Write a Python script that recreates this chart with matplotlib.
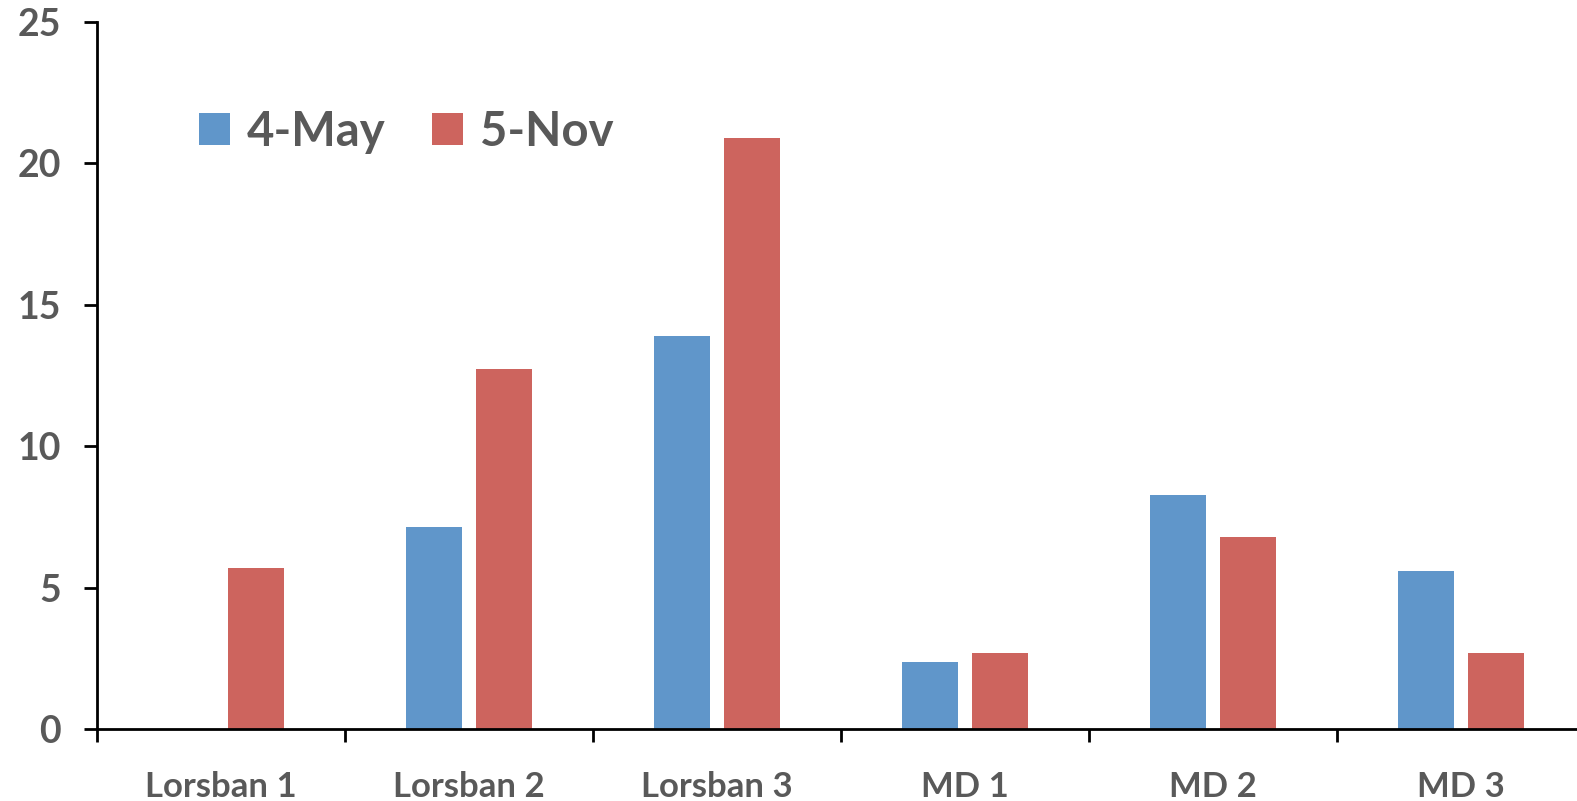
import numpy as np
import matplotlib
matplotlib.use('Agg')
import matplotlib.pyplot as plt

categories = ['Lorsban 1', 'Lorsban 2', 'Lorsban 3', 'MD 1', 'MD 2', 'MD 3']
may = [0, 7.14, 13.91, 2.38, 8.29, 5.6]
nov = [5.68, 12.73, 20.91, 2.7, 6.8, 2.7]
series_names = ['4-May', '5-Nov']
yticks = [0, 5, 10, 15, 20, 25]

grey = '#595959'
plt.rcParams['font.family'] = ['Lato', 'DejaVu Sans']
plt.rcParams['font.weight'] = 'bold'

fig = plt.figure(figsize=(15.77, 8.011), dpi=100)
ax = fig.add_axes([97 / 1577, 72 / 801, 1488 / 1577, 707 / 801])

x = np.arange(len(categories))
w = 0.226
off = 0.143
ax.bar(x - off, may, w, color='#6096CA', label=series_names[0])
ax.bar(x + off, nov, w, color='#CD645E', label=series_names[1])

ax.set_xlim(-0.5, len(categories) - 0.5)
ax.set_ylim(0, 25)
ax.set_yticks(yticks)
ax.set_xticks(np.arange(len(categories) + 1) - 0.5)
ax.set_xticklabels([])
ax.set_xticks(x, minor=True)
ax.set_xticklabels(categories, minor=True)
ax.tick_params(axis='x', which='minor', length=0, pad=30, labelsize=25, labelcolor=grey)
ax.tick_params(axis='x', which='major', length=9.4, width=2, direction='out')
ax.tick_params(axis='y', length=9.4, width=2, direction='out', pad=16.6, labelsize=27, labelcolor=grey)

for s in ['top', 'right']:
    ax.spines[s].set_visible(False)
for s in ['left', 'bottom']:
    ax.spines[s].set_linewidth(2)

for lab in ax.get_xticklabels(minor=True) + ax.get_yticklabels():
    lab.set_fontweight('bold')

leg = ax.legend(loc='upper left', bbox_to_anchor=(0.1264, 0.863), bbox_transform=fig.transFigure,
                frameon=False, ncol=2, fontsize=34, handlelength=0.65, handleheight=0.65,
                handletextpad=0.35, columnspacing=1.0, borderaxespad=0, borderpad=0)
for t in leg.get_texts():
    t.set_color(grey)
    t.set_fontweight('bold')

fig.savefig('out.png', dpi=100)
